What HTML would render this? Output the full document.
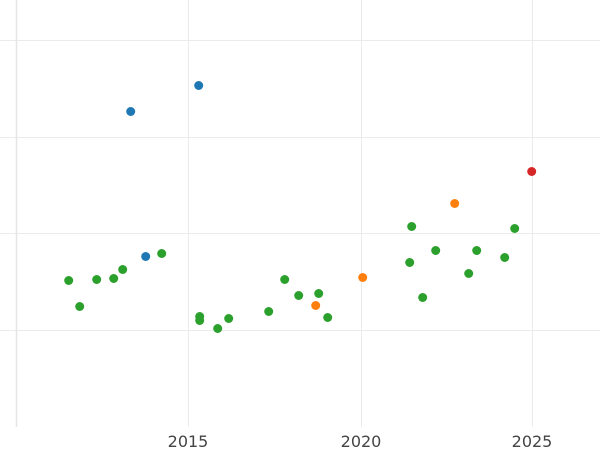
<!DOCTYPE html>
<html><head><style>body{margin:0;background:#fff}svg{display:block}</style></head><body>
<svg width="600" height="450" xmlns="http://www.w3.org/2000/svg">
<g stroke="#ebebeb" stroke-width="1">
<line x1="0" y1="40.5" x2="600" y2="40.5"/>
<line x1="0" y1="137.5" x2="600" y2="137.5"/>
<line x1="0" y1="233.5" x2="600" y2="233.5"/>
<line x1="0" y1="330.5" x2="600" y2="330.5"/>
<line x1="188.5" y1="0" x2="188.5" y2="427"/>
<line x1="361.5" y1="0" x2="361.5" y2="427"/>
<line x1="532.5" y1="0" x2="532.5" y2="427"/>
<line x1="16.5" y1="0" x2="16.5" y2="427" stroke="#e6e6e6" stroke-width="1.5"/>
</g>
<g font-family="DejaVu Sans, Liberation Sans, sans-serif" font-size="16" fill="#444" text-anchor="middle">
<text x="188" y="447">2015</text><text x="361" y="447">2020</text><text x="532" y="447">2025</text>
</g>
<g transform="translate(0.7,0.5)">
<g fill="#1f77b4"><circle cx="130" cy="111" r="4.5"/><circle cx="198" cy="85" r="4.5"/><circle cx="145" cy="256" r="4.5"/></g>
<g fill="#ff7f0e"><circle cx="454" cy="203" r="4.5"/><circle cx="362" cy="277" r="4.5"/><circle cx="315" cy="305" r="4.5"/></g>
<g fill="#d62728"><circle cx="531" cy="171" r="4.5"/></g>
<g fill="#2ca02c">
<circle cx="68" cy="280" r="4.5"/><circle cx="79" cy="306" r="4.5"/><circle cx="96" cy="279" r="4.5"/><circle cx="113" cy="278" r="4.5"/><circle cx="122" cy="269" r="4.5"/><circle cx="161" cy="253" r="4.5"/><circle cx="199" cy="316" r="4.5"/><circle cx="199" cy="320" r="4.5"/><circle cx="217" cy="328" r="4.5"/><circle cx="228" cy="318" r="4.5"/><circle cx="268" cy="311" r="4.5"/><circle cx="284" cy="279" r="4.5"/><circle cx="298" cy="295" r="4.5"/><circle cx="318" cy="293" r="4.5"/><circle cx="327" cy="317" r="4.5"/><circle cx="411" cy="226" r="4.5"/><circle cx="409" cy="262" r="4.5"/><circle cx="422" cy="297" r="4.5"/><circle cx="435" cy="250" r="4.5"/><circle cx="468" cy="273" r="4.5"/><circle cx="476" cy="250" r="4.5"/><circle cx="504" cy="257" r="4.5"/><circle cx="514" cy="228" r="4.5"/>
</g>
</g>
</svg>
</body></html>
